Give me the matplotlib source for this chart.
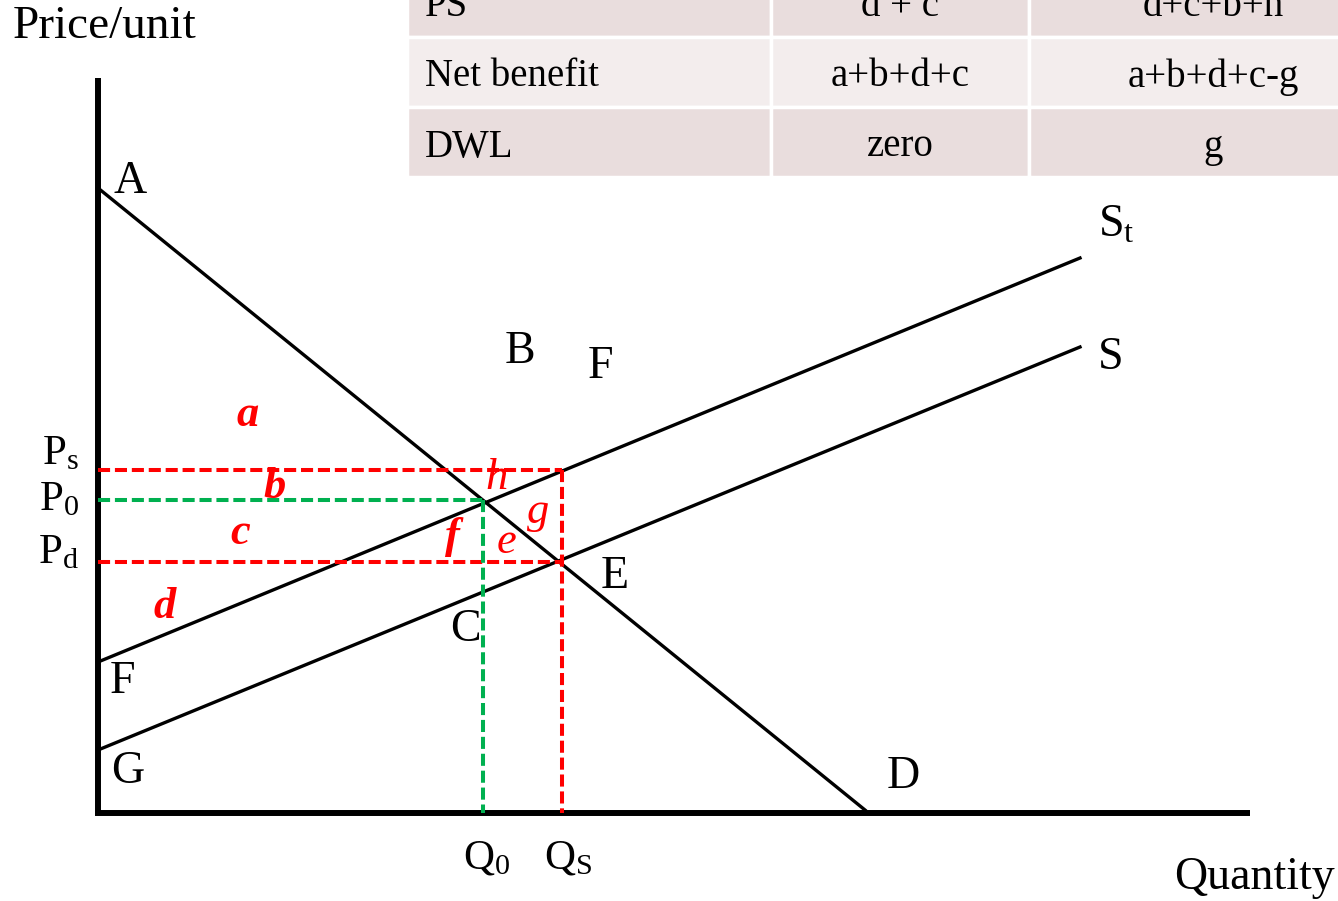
import matplotlib
matplotlib.use("Agg")
import matplotlib.pyplot as plt
from matplotlib.patches import Rectangle

plt.rcParams['font.family'] = ['Liberation Serif', 'DejaVu Serif']
plt.rcParams['mathtext.fontset'] = 'custom'
plt.rcParams['mathtext.rm'] = 'Liberation Serif'
plt.rcParams['mathtext.it'] = 'Liberation Serif:italic'

# === Curves (quantity, price) ===
demand_q = [0.0, 76.7]
demand_p = [62.5, 0.3]
supply_q = [0.0, 98.2]
supply_p = [6.3, 46.6]
supply_t_q = [0.0, 98.2]
supply_t_p = [15.1, 55.5]

# price and quantity levels
P_s, P_0, P_d = 34.3, 31.3, 25.1
Q_0, Q_s = 38.5, 46.4

# axis extents
x_max, y_max = 115.2, 73.5

# === Table ===
row_names = ['PS', 'Net benefit', 'DWL']
col_free = ['d + c', 'a+b+d+c', 'zero']
col_sub = ['d+c+b+h', 'a+b+d+c-g', 'g']
row_colors = ['#E9DDDD', '#F3EDED', '#E9DDDD']

RED = '#FF0000'
GREEN = '#00B050'

W, H = 1338, 901
fig = plt.figure(figsize=(W / 100, H / 100), dpi=100)
ax = fig.add_axes([0, 0, 1, 1])
# 1 data unit = 10 px, origin at the corner of the axes
ax.set_xlim(-9.8, (W - 98) / 10)
ax.set_ylim((813 - H) / 10, 81.3)
ax.axis('off')

# axes lines
ax.plot([0, 0], [0, y_max], color='black', lw=4.3, solid_capstyle='butt')
ax.plot([-0.3, x_max], [0, 0], color='black', lw=4.3, solid_capstyle='butt')

# curves
ax.plot(demand_q, demand_p, color='black', lw=2.4)
ax.plot(supply_q, supply_p, color='black', lw=2.4)
ax.plot(supply_t_q, supply_t_p, color='black', lw=2.4)

dash = dict(lw=2.9, linestyle=(0, (3.0, 1.2)))
ax.plot([0, Q_s], [P_s, P_s], color=RED, **dash)
ax.plot([0, Q_s], [P_d, P_d], color=RED, **dash)
ax.plot([Q_s, Q_s], [P_s, 0], color=RED, **dash)
ax.plot([0, Q_0], [P_0, P_0], color=GREEN, **dash)
ax.plot([Q_0, Q_0], [P_0, 0], color=GREEN, **dash)

# point labels
big = 33
for s, x, y in [('A', 3.2, 63.1), ('B', 42.2, 46.1), ('F', 50.2, 44.6),
                ('E', 51.7, 23.6), ('C', 36.7, 18.3), ('F', 2.4, 13.1),
                ('G', 3.0, 4.1), ('D', 80.5, 3.6)]:
    ax.text(x, y, s, fontsize=big, ha='center', va='center')

ax.text(100.0, 58.8, r'$\mathregular{S_t}$', fontsize=big, ha='left', va='center')
ax.text(100.0, 45.5, 'S', fontsize=big, ha='left', va='center')

# price labels
ax.text(-1.9, P_s + 1.6, r'$\mathregular{P_s}$', fontsize=31, ha='right', va='center')
ax.text(-1.9, P_0 + 0.0, r'$\mathregular{P_0}$', fontsize=31, ha='right', va='center')
ax.text(-1.9, P_d + 0.9, r'$\mathregular{P_d}$', fontsize=31, ha='right', va='center')

# quantity labels
ax.text(Q_0 + 0.4, -4.5, r'$\mathregular{Q_0}$', fontsize=31, ha='center', va='center')
ax.text(Q_s + 0.6, -4.5, r'$\mathregular{Q_S}$', fontsize=31, ha='center', va='center')

ax.text(-8.5, 78.6, 'Price/unit', fontsize=34, ha='left', va='center')
ax.text(123.7, -6.5, 'Quantity', fontsize=33, ha='right', va='center')

# area letters
for s, x, y, w in [('a', 15.0, 39.8, 'bold'), ('b', 17.7, 32.6, 'bold'),
                   ('c', 14.2, 28.0, 'bold'), ('d', 6.7, 20.6, 'bold'),
                   ('h', 39.9, 33.5, 'normal'), ('g', 44.0, 30.1, 'normal'),
                   ('f', 35.4, 27.6, 'bold'), ('e', 40.8, 27.1, 'normal')]:
    ax.text(x, y, s, fontsize=32, color=RED, style='italic', weight=w,
            ha='center', va='center')

# === Table (top row partly cut off by the figure edge) ===
tx0, row_h = 407, 70
top = -33
tab = fig.add_axes([tx0 / W, (H - (top + 3 * row_h)) / H,
                    (W - tx0) / W, 3 * row_h / H])
tab.set_xlim(tx0, W)
tab.set_ylim(top + 3 * row_h, top)
tab.axis('off')
col_edges = [407, 771, 1029, W + 5]
for i in range(3):
    y0 = top + i * row_h
    for j in range(3):
        tab.add_patch(Rectangle((col_edges[j], y0), col_edges[j + 1] - col_edges[j], row_h,
                                facecolor=row_colors[i], edgecolor='white', lw=2.5))
    yc = y0 + row_h / 2 + 5
    tab.text(425, yc, row_names[i], fontsize=28, ha='left', va='center')
    tab.text((col_edges[1] + col_edges[2]) / 2, yc, col_free[i], fontsize=28,
             ha='center', va='center')
    tab.text((col_edges[2] + W) / 2 + 30, yc, col_sub[i], fontsize=28,
             ha='center', va='center')

fig.savefig('out.png', dpi=100)
